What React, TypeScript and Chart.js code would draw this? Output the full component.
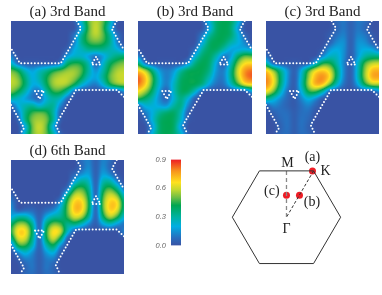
import React, { useEffect, useRef } from "react";
import { Chart, registerables } from "chart.js";

Chart.register(...registerables);

const titles = ["(a) 3rd Band", "(b) 3rd Band", "(c) 3rd Band", "(d) 6th Band"];

// Intensity × 100 at 17 × 17 sampling nodes; omitted trailing entries are 0.
const panelA = [
  [0,0,0,0,0,0,0,0,0,3,26,50,58,50,30,3,0],
  [0,0,0,0,0,0,0,0,0,0,18,48,60,48,22,0,0],
  [0,0,0,0,0,0,0,0,0,10,32,50,58,50,32,10,0],
  [0,0,0,0,0,0,0,0,0,12,34,46,50,46,34,12,0],
  [0,0,0,0,0,0,0,0,4,20,26,34,34,34,28,22,10],
  [12,0,0,0,0,0,0,0,17,24,24,16,8,16,28,35,38],
  [25,6,3,3,3,3,3,9,38,45,42,28,3,22,40,48,52],
  [50,42,25,17,25,32,42,48,54,55,48,30,14,28,46,56,58],
  [58,52,36,20,28,42,54,58,58,54,42,24,18,32,50,58,60],
  [58,54,38,20,22,40,55,58,55,42,24,14,10,22,42,52,55],
  [52,42,28,12,8,30,45,45,30,5,0,0,0,0,0,0,12],
  [30,24,17,10,6,22,30,25,6],
  [4,20,28,32,22,30,32,12],
  [0,10,34,46,50,46,30,4],
  [0,4,34,52,56,52,32,3],
  [0,0,18,50,60,50,18],
  [0,0,26,50,58,50,30,5],
];

const panelB = [
  [0,0,0,0,0,0,0,0,0,2,22,38,42,40,25,3,0],
  [0,0,0,0,0,0,0,0,0,0,16,38,42,38,16,0,0],
  [0,0,0,0,0,0,0,0,0,10,30,40,42,38,22,6,0],
  [0,0,0,0,0,0,0,0,0,18,38,42,40,30,22,12,0],
  [0,0,0,0,0,0,0,0,6,30,40,40,30,18,18,20,16],
  [12,0,0,0,0,0,0,0,22,38,40,28,10,15,38,50,48],
  [38,8,2,2,2,2,2,14,35,42,38,18,3,25,52,66,68],
  [70,58,36,16,10,15,30,40,42,42,35,15,10,32,60,78,82],
  [84,72,48,22,10,20,38,42,42,40,28,12,10,32,58,78,84],
  [82,70,46,22,10,25,40,42,42,35,18,8,8,24,45,64,68],
  [66,55,38,16,3,25,40,40,25,4,0,0,0,0,0,0,16],
  [46,38,28,13,5,22,35,22,3],
  [6,22,22,18,15,30,35,12],
  [0,10,20,32,38,40,28,4],
  [0,4,22,38,42,40,25,3],
  [0,0,14,38,42,40,16],
  [0,0,22,38,42,38,25,4],
];

const panelC = [
  [0,0,0,0,0,0,0,0,0,0,6,10,4,10,8,1,0],
  [0,0,0,0,0,0,0,0,0,0,5,10,4,10,6,0,0],
  [0,0,0,0,0,0,0,0,0,3,8,12,4,12,10,3,0],
  [0,0,0,0,0,0,0,0,0,4,13,15,3,15,14,5,0],
  [0,0,0,0,0,0,0,0,2,15,20,15,3,16,20,18,8],
  [8,0,0,0,0,0,0,0,12,25,25,14,2,16,30,35,35],
  [30,5,2,2,2,2,2,22,44,44,30,12,2,24,48,58,60],
  [70,54,34,16,3,20,46,64,70,62,38,13,2,26,54,72,74],
  [80,66,40,16,2,24,54,74,80,68,38,12,2,26,54,74,76],
  [80,66,38,14,2,26,56,74,72,50,26,8,2,18,42,56,56],
  [66,52,28,8,2,20,44,46,30,3,0,0,0,0,0,0,12],
  [35,25,14,6,2,12,22,14,2],
  [3,12,9,5,2,8,12,5],
  [0,4,8,8,3,8,8,1],
  [0,1,6,9,3,9,6],
  [0,0,4,9,3,9,4],
  [0,0,6,8,3,8,6,1],
];

const panelD = [
  [0,0,0,0,0,0,0,0,0,0,8,12,3,12,8,0,0],
  [0,0,0,0,0,0,0,0,0,0,6,14,3,14,6,0,0],
  [0,0,0,0,0,0,0,0,0,6,14,18,3,18,12,2,0],
  [0,0,0,0,0,0,0,0,0,18,32,26,3,28,30,12,0],
  [0,0,0,0,0,0,0,0,8,42,48,34,3,38,48,34,8],
  [5,0,0,0,0,0,0,2,35,60,60,40,3,46,62,54,26],
  [12,0,0,0,0,0,0,15,48,70,70,44,3,50,70,68,36],
  [15,2,5,6,2,6,12,25,50,72,70,42,3,48,70,64,34],
  [18,30,30,18,3,20,30,32,46,62,56,32,3,38,58,46,22],
  [38,54,54,34,3,36,52,48,32,36,26,12,3,18,26,16,8],
  [44,68,68,40,3,44,68,62,26,3,0,0,0,0,0,0,12],
  [32,62,62,36,3,42,62,42,4],
  [6,44,46,28,3,28,42,14],
  [0,12,24,14,3,16,22,3],
  [0,2,10,10,3,10,10],
  [0,0,5,10,3,10,5],
  [0,0,6,8,3,8,6,1],
];

const panels = [panelA, panelB, panelC, panelD];

// Hexagon outlines and small triangles, in panel units (0–113, y down).
const outlineTopLeft = [[65.7,0],[70,7.3],[49.7,42.3],[9,42.3],[0,27.3]];
const outlineTopRight = [[105.7,0],[101,8.3],[113,29]];
const outlineBottomRight = [[113,75.7],[105.7,69],[65,69],[44.7,104],[49,113]];
const outlineBottomLeft = [[0,84],[13,107],[9,113]];
const triangleUp = [[85,36],[80.5,43.5],[89.5,43.5],[85,36]];
const triangleDown = [[24,70],[33,70],[28.5,78],[24,70]];
const outlines = [outlineTopLeft, outlineTopRight, outlineBottomRight, outlineBottomLeft, triangleUp, triangleDown];

const colourStops: [number, number[]][] = [
  [0, [57,83,164]],
  [0.08, [40,110,190]],
  [0.2, [0,174,226]],
  [0.3, [0,178,160]],
  [0.42, [0,166,81]],
  [0.5, [106,189,69]],
  [0.58, [191,215,48]],
  [0.66, [255,225,30]],
  [0.78, [247,148,29]],
  [0.9, [237,28,36]],
];

const barTicks = [0, 0.3, 0.6, 0.9];
const barValue = [0.9];

const hexagon = [[-1,0],[-0.5,0.866],[0.5,0.866],[1,0],[0.5,-0.866],[-0.5,-0.866],[-1,0]];
const pathM = [[0,0.866],[0,0]];
const pathK = [[0.5,0.866],[0,0]];
const redPoints = [[0.48,0.866],[0.24,0.41],[0,0.41]];
const bzLabels = ["M", "(a)", "K", "(c)", "(b)", "Γ"];
const bzLabelX = [0.02, 0.48, 0.72, -0.27, 0.47, 0];
const bzLabelY = [1.0, 1.12, 0.85, 0.49, 0.27, -0.22];

function colourAt(v: number) {
  if (v <= 0) return colourStops[0][1];
  for (let i = 1; i < colourStops.length; i++) {
    const [b, cb] = colourStops[i];
    if (v <= b) {
      const [a, ca] = colourStops[i - 1];
      const t = (v - a) / (b - a);
      return ca.map((c, k) => c + (cb[k] - c) * t);
    }
  }
  return colourStops[colourStops.length - 1][1];
}

function node(g: number[][], j: number, i: number) {
  const r = g[Math.max(0, Math.min(16, j))];
  return (r[Math.max(0, Math.min(16, i))] ?? 0) / 100;
}
// Mitchell-Netravali shading kernel for the smooth colour field.
function kernel(d: number) {
  const x = Math.abs(d);
  if (x < 1) return (7 * x * x * x - 12 * x * x + 16 / 3) / 6;
  if (x < 2) return ((-7 / 3) * x * x * x + 12 * x * x - 20 * x + 32 / 3) / 6;
  return 0;
}
function sample(g: number[][], x: number, y: number) {
  const fx = (x / 113) * 16, fy = (y / 113) * 16;
  const i = Math.floor(fx), j = Math.floor(fy);
  let total = 0;
  for (let dj = -1; dj <= 2; dj++) {
    const wy = kernel(fy - (j + dj));
    for (let di = -1; di <= 2; di++) {
      total += wy * kernel(fx - (i + di)) * node(g, j + dj, i + di);
    }
  }
  return total;
}

const heatmap = {
  id: "heatmap",
  beforeDatasetsDraw(chart: any, _a: any, opts: any) {
    const { left, top, right, bottom } = chart.chartArea;
    const w = Math.round(right - left), h = Math.round(bottom - top);
    if (!opts.grid) return;
    const off = document.createElement("canvas");
    off.width = w; off.height = h;
    const octx = off.getContext("2d")!;
    const img = octx.createImageData(w, h);
    for (let py = 0; py < h; py++) {
      const vy = chart.scales.y.getValueForPixel(top + py + 0.5);
      for (let px = 0; px < w; px++) {
        const vx = chart.scales.x.getValueForPixel(left + px + 0.5);
        const c = colourAt(sample(opts.grid, vx, vy));
        const o = (py * w + px) * 4;
        img.data[o] = c[0]; img.data[o + 1] = c[1]; img.data[o + 2] = c[2]; img.data[o + 3] = 255;
      }
    }
    octx.putImageData(img, 0, 0);
    chart.ctx.drawImage(off, left, top);
  },
};

const textLabels = {
  id: "textLabels",
  afterDatasetsDraw(chart: any) {
    const c = chart.ctx;
    c.save();
    c.fillStyle = "#222";
    c.font = "14px 'Liberation Serif'";
    c.textAlign = "center";
    c.textBaseline = "middle";
    bzLabels.forEach((t, i) => {
      c.fillText(t, chart.scales.x.getPixelForValue(bzLabelX[i]), chart.scales.y.getPixelForValue(bzLabelY[i]));
    });
    c.restore();
  },
};

const panelBoxes = [
  { left: 11, top: 0, width: 113, height: 134 },
  { left: 138, top: 0, width: 114, height: 134 },
  { left: 266, top: 0, width: 113, height: 134 },
  { left: 11, top: 139, width: 113, height: 135 },
];

function hiddenScale(min: number, max: number, reverse = false) {
  return { type: "linear", display: false, min, max, reverse };
}

export default function App() {
  const panelRefs = useRef<(HTMLCanvasElement | null)[]>([]);
  const barRef = useRef<HTMLCanvasElement | null>(null);
  const bzRef = useRef<HTMLCanvasElement | null>(null);

  useEffect(() => {
    const charts: Chart[] = [];
    panels.forEach((grid, idx) => {
      const cv = panelRefs.current[idx]!;
      (cv.getContext("2d") as any).letterSpacing = "0.9px";
      charts.push(
        new Chart(cv, {
          type: "scatter",
          plugins: [heatmap],
          data: {
            datasets: outlines.map((o) => ({
              data: o.map(([x, y]) => ({ x, y })),
              showLine: true,
              borderColor: "#fff",
              borderWidth: 2,
              borderDash: [0, 3.4],
              borderCapStyle: "round",
              pointRadius: 0,
              tension: 0,
            })),
          },
          options: {
            animation: false,
            responsive: false,
            layout: { padding: 0 },
            scales: { x: hiddenScale(0, 113), y: hiddenScale(0, 113, true) },
            plugins: {
              legend: { display: false },
              tooltip: { enabled: false },
              heatmap: { grid },
              title: {
                display: true,
                text: titles[idx],
                color: "#222",
                font: { family: "'Liberation Serif'", size: 15, weight: "normal", lineHeight: 1.2 },
                padding: { top: 3, bottom: 0 },
              },
            },
          } as any,
        } as any)
      );
    });

    charts.push(
      new Chart(barRef.current!, {
        type: "bar",
        data: {
          labels: [""],
          datasets: [
            {
              data: barValue,
              barPercentage: 1,
              categoryPercentage: 1,
              backgroundColor: (ctx: any) => {
                const area = ctx.chart.chartArea;
                if (!area) return "#000";
                const g = ctx.chart.ctx.createLinearGradient(0, area.bottom, 0, area.top);
                colourStops.forEach(([v, c]) => g.addColorStop(v / 0.9, `rgb(${c[0]},${c[1]},${c[2]})`));
                return g;
              },
            },
          ],
        },
        options: {
          animation: false,
          responsive: false,
          layout: { padding: { top: 6, bottom: 7, right: 4, left: 0 } },
          scales: {
            x: { display: false },
            y: {
              min: 0,
              max: 0.9,
              afterBuildTicks: (s: any) => { s.ticks = barTicks.map((value) => ({ value })); },
              afterFit: (s: any) => { s.width = 21; },
              grid: { display: false, drawTicks: false },
              border: { display: false },
              ticks: {
                padding: 5,
                color: "#666",
                font: { family: "'Liberation Sans'", size: 7.5, style: "italic" },
                callback: (v: any) => Number(v).toFixed(1),
              },
            },
          },
          plugins: { legend: { display: false }, tooltip: { enabled: false } },
        } as any,
      } as any)
    );

    const lineSet = (pts: number[][], color: string, width: number, dash: number[] = []) => ({
      data: pts.map(([x, y]) => ({ x, y })),
      showLine: true,
      borderColor: color,
      borderWidth: width,
      borderDash: dash,
      pointRadius: 0,
      tension: 0,
    });
    charts.push(
      new Chart(bzRef.current!, {
        type: "scatter",
        plugins: [textLabels],
        data: {
          datasets: [
            lineSet(hexagon, "#333", 1),
            lineSet(pathM, "#888", 1.3, [4, 3]),
            lineSet(pathK, "#333", 1, [3, 2]),
            {
              data: redPoints.map(([x, y]) => ({ x, y })),
              showLine: false,
              pointRadius: 3.5,
              pointBackgroundColor: "#ee1c25",
              pointBorderWidth: 0,
            },
          ],
        },
        options: {
          animation: false,
          responsive: false,
          layout: { padding: 0 },
          scales: { x: hiddenScale(-1.117, 1.69), y: hiddenScale(-1.005, 1.275) },
          plugins: { legend: { display: false }, tooltip: { enabled: false } },
        } as any,
      } as any)
    );
    return () => charts.forEach((c) => c.destroy());
  }, []);

  return (
    <div style={{ position: "fixed", left: 0, top: 0, width: 382, height: 295, background: "#fff", overflow: "hidden" }}>
      {panelBoxes.map((b, i) => (
        <canvas
          key={i}
          ref={(el) => { panelRefs.current[i] = el; }}
          width={b.width}
          height={b.height}
          style={{ position: "absolute", left: b.left, top: b.top, width: b.width, height: b.height }}
        />
      ))}
      <canvas ref={barRef} width={35} height={105} style={{ position: "absolute", left: 150, top: 150, width: 35, height: 105 }} />
      <canvas ref={bzRef} width={160} height={130} style={{ position: "absolute", left: 222, top: 145, width: 160, height: 130 }} />
    </div>
  );
}
